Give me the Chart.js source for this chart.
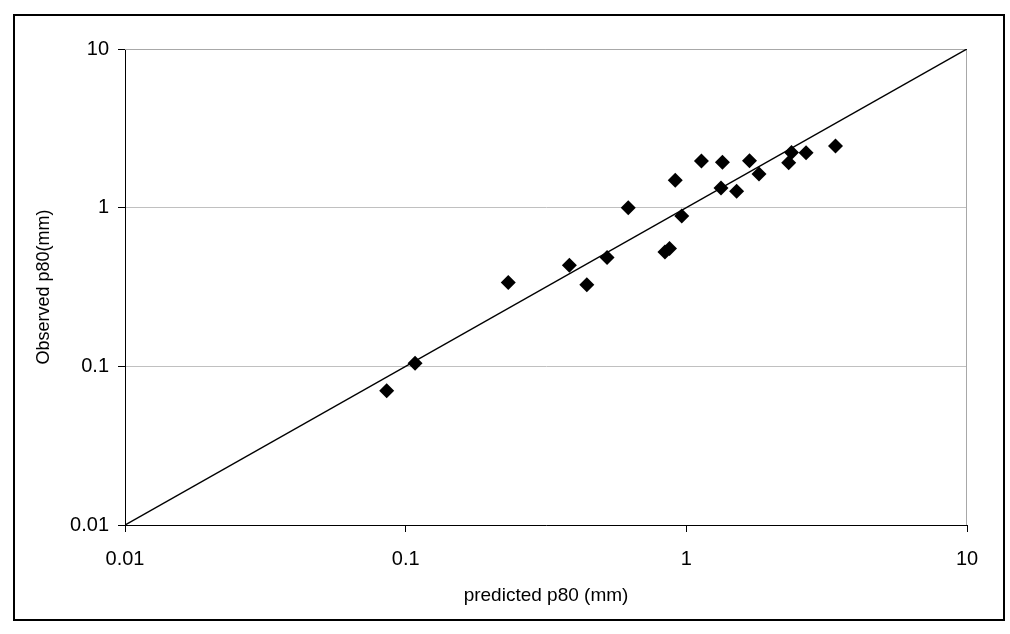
<!DOCTYPE html>
<html>
<head>
<meta charset="utf-8">
<script src="https://cdn.jsdelivr.net/npm/chart.js@4"></script>
<style>
  body { margin: 0; background: #fff; }
  #wrap { position: relative; width: 1010px; height: 634px; }
  #frame { position: absolute; left: 13px; top: 14px; width: 988px; height: 603px; border: 2px solid #000; }
</style>
</head>
<body>
<div id="wrap">
  <canvas id="myChart" width="1010" height="634"></canvas>
  <div id="frame"></div>
</div>
<script>
// predicted vs observed p80
const predicted = [0.0856, 0.108, 0.232, 0.383, 0.442, 0.522, 0.621, 0.839, 0.871, 0.963, 0.913,
                   1.132, 1.345, 1.329, 1.511, 1.679, 1.815, 2.316, 2.37, 2.67, 3.40];
const observed  = [0.0702, 0.1045, 0.337, 0.434, 0.327, 0.486, 1.0, 0.525, 0.553, 0.886, 1.49,
                   1.97, 1.934, 1.33, 1.27, 1.977, 1.63, 1.92, 2.23, 2.22, 2.447];
// 1:1 line
const lineX = [0.01, 10];
const lineY = [0.01, 10];
const tickValues = [0.01, 0.1, 1, 10];

const font = 'Liberation Sans, Arial, sans-serif';

// gray border round the plot area (top + right sides show it)
const plotBorder = {
    id: 'plotBorder',
    beforeDatasetsDraw(chart) {
        const {ctx, chartArea: a} = chart;
        ctx.save();
        ctx.strokeStyle = '#a8a8a8';
        ctx.lineWidth = 1;
        ctx.beginPath();
        ctx.moveTo(a.left, a.top + 0.5);
        ctx.lineTo(a.right - 0.5, a.top + 0.5);
        ctx.lineTo(a.right - 0.5, a.bottom);
        ctx.stroke();
        ctx.restore();
    }
};

function fixedTicks(scale) {
    scale.ticks = tickValues.map(v => ({value: v}));
}

var ctx = document.getElementById('myChart').getContext('2d');
new Chart(ctx, {
    type: 'scatter',
    data: {
        datasets: [{
                label: 'observed',
                data: predicted.map((x, i) => ({x: x, y: observed[i]})),
                pointStyle: 'rectRot',
                pointRadius: 7.5,
                pointHoverRadius: 7.5,
                backgroundColor: '#000',
                borderColor: '#000',
                borderWidth: 0
            },
            {
                label: '1:1',
                data: lineX.map((x, i) => ({x: x, y: lineY[i]})),
                showLine: true,
                borderColor: '#000',
                borderWidth: 1.5,
                pointRadius: 0,
                fill: false
            }
        ]
    },
    options: {
        responsive: false,
        animation: false,
        layout: {
            padding: {left: 0, right: 43, top: 49, bottom: 0}
        },
        plugins: {
            legend: {display: false},
            tooltip: {enabled: false}
        },
        scales: {
            x: {
                type: 'logarithmic',
                min: 0.01,
                max: 10,
                afterBuildTicks: fixedTicks,
                afterFit(scale) { scale.height = 109; },
                grid: {
                    color: 'rgba(0,0,0,0)',
                    tickColor: '#000',
                    tickLength: 7,
                    drawTicks: true
                },
                border: {display: true, color: '#000', width: 1},
                ticks: {
                    color: '#000',
                    font: {family: font, size: 20},
                    padding: 15,
                    maxRotation: 0,
                    autoSkip: false,
                    callback: v => String(v)
                },
                title: {
                    display: true,
                    text: 'predicted p80 (mm)',
                    color: '#000',
                    font: {family: font, size: 19},
                    padding: {top: 0, bottom: 27}
                }
            },
            y: {
                type: 'logarithmic',
                min: 0.01,
                max: 10,
                afterBuildTicks: fixedTicks,
                afterFit(scale) { scale.width = 125; },
                grid: {
                    color: '#c0c0c0',
                    tickColor: '#000',
                    tickLength: 7,
                    drawTicks: true
                },
                border: {display: true, color: '#000', width: 1},
                ticks: {
                    color: '#000',
                    font: {family: font, size: 20},
                    padding: 9,
                    autoSkip: false,
                    callback: v => String(v)
                },
                title: {
                    display: true,
                    text: 'Observed p80(mm)',
                    color: '#000',
                    font: {family: font, size: 18},
                    padding: {top: 33, bottom: 0}
                }
            }
        }
    },
    plugins: [plotBorder]
});
</script>
</body>
</html>
